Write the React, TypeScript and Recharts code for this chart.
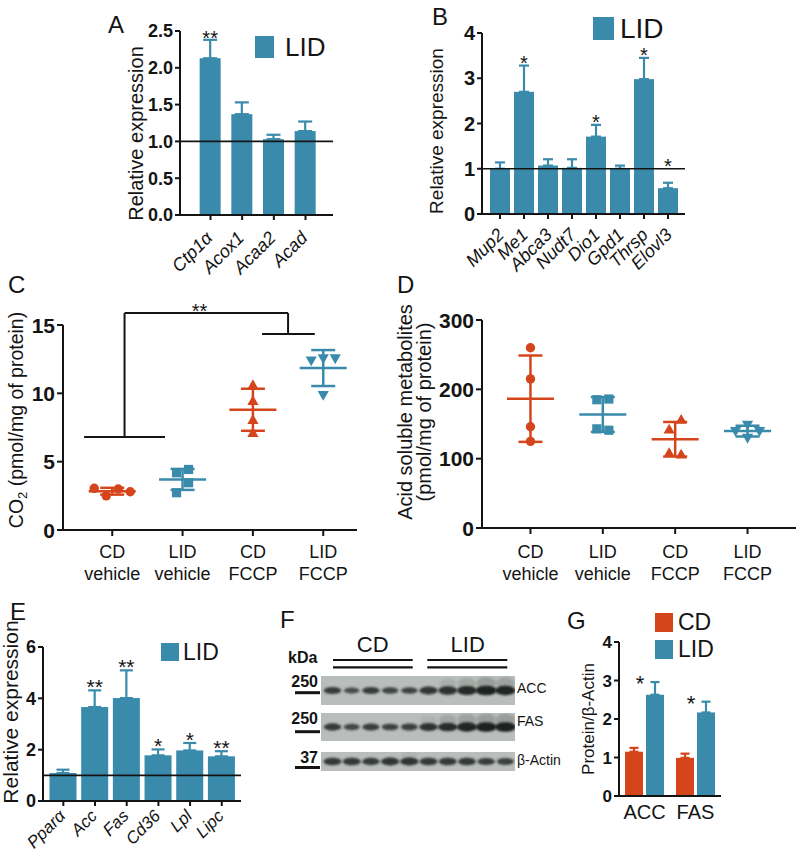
import React from 'react';
import {
  BarChart, Bar, XAxis, YAxis, ReferenceLine, ErrorBar, Legend,
  ScatterChart, Scatter, ReferenceDot, ReferenceArea,
} from 'recharts';

const FONT = '"Liberation Sans", Arial, Helvetica, sans-serif';
const BLUE = '#3a8bab';
const ORANGE = '#d5451b';
const INK = '#141414';
const BLOT_BG = '#b9bdbc';
const BAND = '#1c2120';

// ---------- Panel A ----------
const genesA = ['Ctp1α', 'Acox1', 'Acaa2', 'Acad'];
const lidA = [2.13, 1.37, 1.03, 1.14];
const semA = [0.25, 0.16, 0.06, 0.13];
const sigA = ['**', '', '', ''];
const ticksA = [0, 0.5, 1, 1.5, 2, 2.5];

// ---------- Panel B ----------
const genesB = ['Mup2', 'Me1', 'Abca3', 'Nudt7', 'Dio1', 'Gpd1', 'Thrsp', 'Elovl3'];
const lidB = [1.0, 2.7, 1.07, 1.02, 1.71, 1.0, 2.98, 0.57];
const semB = [0.14, 0.58, 0.14, 0.19, 0.26, 0.07, 0.47, 0.12];
const sigB = ['', '*', '', '', '*', '', '*', '*'];
const ticksB = [0, 1, 2, 3, 4];

// ---------- Panels C & D ----------
const groupTop = ['CD', 'LID', 'CD', 'LID'];
const groupBottom = ['vehicle', 'vehicle', 'FCCP', 'FCCP'];
const co2CDvehicle = [3.0, 2.5, 2.8, 3.05];
const co2LIDvehicle = [4.43, 4.19, 3.46, 2.73];
const co2CDfccp = [10.6, 9.44, 8.05, 7.1];
const co2LIDfccp = [12.56, 12.4, 12.56, 9.88];
const ticksC = [0, 5, 10, 15];
const bracketLevelsC = [6.8, 14.34, 15.87]; // left bar, right bar, top
const bracketLabelC = '**';

const asmCDvehicle = [260, 215, 146, 125];
const asmLIDvehicle = [186, 185, 141, 143];
const asmCDfccp = [156, 142, 106, 108];
const asmLIDfccp = [149, 140, 140, 130];
const ticksD = [0, 100, 200, 300];

// ---------- Panel E ----------
const genesE = ['Pparα', 'Acc', 'Fas', 'Cd36', 'Lpl', 'Lipc'];
const lidE = [1.09, 3.66, 4.01, 1.78, 1.97, 1.74];
const semE = [0.13, 0.65, 1.08, 0.23, 0.29, 0.2];
const sigE = ['', '**', '**', '*', '*', '**'];
const ticksE = [0, 2, 4, 6];

// ---------- Panel F (blot band intensities, lanes 1-5 CD, 6-10 LID) ----------
const accBands = [0.6, 0.4, 0.6, 0.5, 0.5, 0.7, 0.78, 0.88, 1.0, 0.96];
const fasBands = [0.62, 0.45, 0.58, 0.52, 0.55, 0.75, 0.85, 0.95, 1.0, 1.0];
const actinBands = [0.66, 0.66, 0.62, 0.7, 0.72, 0.66, 0.66, 0.64, 0.6, 0.55];
const blotGroups = ['CD', 'LID'];
const blotMarkers = ['250', '250', '37'];
const blotRows = ['ACC', 'FAS', 'β-Actin'];

// ---------- Panel G ----------
const proteinsG = ['ACC', 'FAS'];
const cdG = [1.15, 0.99];
const cdSemG = [0.1, 0.11];
const lidG = [2.63, 2.17];
const lidSemG = [0.33, 0.28];
const sigG = ['*', '*'];
const ticksG = [0, 1, 2, 3, 4];

// ---------- helpers ----------
const axisLine = { stroke: INK, strokeWidth: 2 };
const tickLine = { stroke: INK, strokeWidth: 2 };
const SLANT = -45;

const barRows = (names: string[], vals: number[], sems: number[], sigs: string[], floor: number) =>
  names.map((name, i) => ({ name, value: vals[i], sem: sems[i], err: [0, sems[i]], star: sigs[i], floor }));

const mean = (a: number[]) => a.reduce((s, v) => s + v, 0) / a.length;
const sd = (a: number[]) => {
  const m = mean(a);
  return Math.sqrt(a.reduce((s, v) => s + (v - m) * (v - m), 0) / (a.length - 1));
};

// deterministic beeswarm: horizontal offsets (px) so that markers don't overlap
function swarm(values: number[], pxPerUnit: number, size = 10, step = 6, minDx = 11): number[] {
  const placed: { dx: number; v: number }[] = [];
  const out: number[] = [];
  for (const v of values) {
    let chosen = 0;
    let found = false;
    for (let k = 0; k < 20 && !found; k++) {
      const cands = k === 0 ? [0] : [-k * step, k * step];
      for (const c of cands) {
        const ok = placed.every(p => Math.abs(p.dx - c) >= minDx || Math.abs(p.v - v) * pxPerUnit >= size);
        if (ok) { chosen = c; found = true; break; }
      }
    }
    placed.push({ dx: chosen, v });
    out.push(chosen);
  }
  const m = mean(out);
  return out.map(d => d - m);
}

function StarredBar(props: any) {
  const { x, y, width, height, fill, payload, vk = 'value', sk = 'sem', starFont = 20, starLift = 4, starDx = 0 } = props;
  const v = payload[vk];
  const base = y + height;
  const pxPer = v ? height / v : 0;
  const anchor = Math.max(v + payload[sk], payload.floor || 0);
  const ay = base - anchor * pxPer;
  return (
    <g>
      <rect x={x} y={y} width={width} height={height} fill={fill} />
      {payload.star ? (
        <text x={x + width / 2 + starDx} y={ay + starLift} textAnchor="middle" fontFamily={FONT} fontSize={starFont} fill={INK}>
          {payload.star}
        </text>
      ) : null}
    </g>
  );
}

function SwatchLegend(props: any) {
  const { payload, sw, sh, font, gap, rowGap = 0 } = props;
  return (
    <div style={{ display: 'flex', flexDirection: 'column', rowGap }}>
      {(payload || []).map((e: any) => (
        <div key={e.value} style={{ display: 'flex', alignItems: 'center', height: sh }}>
          <span style={{ width: sw, height: sh, background: e.color, display: 'inline-block', flex: 'none' }} />
          <span style={{ marginLeft: gap, fontFamily: FONT, fontSize: font, lineHeight: `${sh}px`, color: INK, whiteSpace: 'nowrap' }}>
            {e.value}
          </span>
        </div>
      ))}
    </div>
  );
}

function YTick(props: any) {
  const { x, y, payload, fs, fmt } = props;
  const label = fmt ? fmt(payload.value) : String(payload.value);
  return (
    <text x={x} y={y} dy="0.36em" textAnchor="end" fontFamily={FONT} fontWeight={700} fontSize={fs} fill={INK}>{label}</text>
  );
}

function SlantTick(props: any) {
  const { x, y, payload, fs, ox, oy } = props;
  const ax = x + ox;
  const ay = y + oy;
  return (
    <g transform={`translate(${ax},${ay}) rotate(${SLANT})`}>
      <text x={0} y={0} textAnchor="end" fontFamily={FONT} fontStyle="italic" fontSize={fs} fill={INK}>
        {payload.value}
      </text>
    </g>
  );
}

function TwoLineTick(props: any) {
  const { x, y, payload, fs, d1, d2 } = props;
  const i = Math.round(payload.value) - 1;
  return (
    <text textAnchor="middle" fontFamily={FONT} fontSize={fs} fill={INK}>
      <tspan x={x} y={y + d1}>{groupTop[i]}</tspan>
      <tspan x={x} y={y + d1 + d2}>{groupBottom[i]}</tspan>
    </text>
  );
}

function PlainTick(props: any) {
  const { x, y, payload, fs, dy } = props;
  return (
    <text x={x} y={y + dy} textAnchor="middle" fontFamily={FONT} fontSize={fs} fill={INK}>{payload.value}</text>
  );
}

function Marker(props: any) {
  const { cx, cy, payload, kind, color } = props;
  if (cx == null || cy == null) return null;
  const x = cx + (payload.dx || 0);
  if (kind === 'circle') return <circle cx={x} cy={cy} r={4.7} fill={color} />;
  if (kind === 'square') return <rect x={x - 4.6} y={cy - 4.6} width={9.2} height={9.2} fill={color} />;
  if (kind === 'up') return <polygon points={`${x},${cy - 5.8} ${x + 5.6},${cy + 4} ${x - 5.6},${cy + 4}`} fill={color} />;
  return <polygon points={`${x},${cy + 5.8} ${x + 5.6},${cy - 4} ${x - 5.6},${cy - 4}`} fill={color} />;
}

function MeanLine(props: any) {
  const { cx, cy, color, half } = props;
  if (cx == null || cy == null) return null;
  return <line x1={cx - half} x2={cx + half} y1={cy} y2={cy} stroke={color} strokeWidth={2.5} />;
}

const groupStyle = [
  { kind: 'circle', color: ORANGE },
  { kind: 'square', color: BLUE },
  { kind: 'up', color: ORANGE },
  { kind: 'down', color: BLUE },
];

// ---------- bar panels ----------
const dataA = barRows(genesA, lidA, semA, sigA, 0);
const dataB = barRows(genesB, lidB, semB, sigB, 1);
const dataE = barRows(genesE, lidE, semE, sigE, 0);
const dataG = proteinsG.map((name, i) => ({
  name, cd: cdG[i], cdSem: cdSemG[i], cdErr: [0, cdSemG[i]],
  lid: lidG[i], lidSem: lidSemG[i], lidErr: [0, lidSemG[i]], star: sigG[i],
}));

function ExprPanel(props: any) {
  const { left, top, width, height, margin, yWidth, xHeight, domain, ticks, fmt, yFs, pad, barSize, cap, data,
    xFs, ox, oy, legend, starFont, starLift } = props;
  return (
    <div style={{ position: 'absolute', left, top }}>
      <BarChart width={width} height={height} data={data} margin={margin}>
        <XAxis dataKey="name" height={xHeight} interval={0} padding={pad} axisLine={axisLine} tickLine={tickLine}
          tickSize={5} tick={<SlantTick fs={xFs} ox={ox} oy={oy} />} />
        <YAxis width={yWidth} domain={domain} ticks={ticks} axisLine={axisLine} tickLine={tickLine}
          tickSize={5} tickMargin={2} tick={<YTick fs={yFs} fmt={fmt} />} interval={0} />
        <Bar dataKey="value" name="LID" fill={BLUE} barSize={barSize} isAnimationActive={false}
          shape={(p: any) => <StarredBar {...p} starFont={starFont} starLift={starLift} />}>
          <ErrorBar dataKey="err" width={cap} stroke={BLUE} strokeWidth={2.2} direction="y" isAnimationActive={false} />
        </Bar>
        <ReferenceLine y={1} stroke={INK} strokeWidth={1.6} />
        <Legend layout="vertical" align="center" verticalAlign="middle"
          wrapperStyle={{ left: legend.left, top: legend.top, width: 'auto', height: 'auto' }}
          content={(p: any) => <SwatchLegend {...p} sw={legend.sw} sh={legend.sh} font={legend.font} gap={legend.gap} />} />
      </BarChart>
    </div>
  );
}

function DotPanel(props: any) {
  const { left, top, width, height, margin, yWidth, xHeight, xDomain, yDomain, yTicks, groups, plotH, yFs, d1, children } = props;
  const pxPerUnit = plotH / (yDomain[1] - yDomain[0]);
  return (
    <div style={{ position: 'absolute', left, top }}>
      <ScatterChart width={width} height={height} margin={margin}>
        <XAxis type="number" dataKey="x" domain={xDomain} ticks={[1, 2, 3, 4]} height={xHeight} interval={0}
          axisLine={axisLine} tickLine={tickLine} tickSize={6} tickMargin={2}
          tick={<TwoLineTick fs={18} d1={d1} d2={22} />} />
        <YAxis type="number" dataKey="y" domain={yDomain} ticks={yTicks} width={yWidth} interval={0}
          axisLine={axisLine} tickLine={tickLine} tickSize={6} tickMargin={2} tick={<YTick fs={yFs} />} />
        {groups.map((vals: number[], gi: number) => {
          const offs = swarm(vals, pxPerUnit);
          const data = vals.map((v, k) => ({ x: gi + 1, y: v, dx: offs[k] }));
          const st = groupStyle[gi];
          return (
            <Scatter key={`pts${gi}`} data={data} isAnimationActive={false}
              shape={(p: any) => <Marker {...p} kind={st.kind} color={st.color} />} />
          );
        })}
        {groups.map((vals: number[], gi: number) => {
          const st = groupStyle[gi];
          return (
            <Scatter key={`sum${gi}`} data={[{ x: gi + 1, y: mean(vals), sd: sd(vals) }]} isAnimationActive={false}
              shape={(p: any) => <MeanLine {...p} color={st.color} half={23.5} />}>
              <ErrorBar dataKey="sd" direction="y" width={12} stroke={st.color} strokeWidth={2.5} isAnimationActive={false} />
            </Scatter>
          );
        })}
        {children}
      </ScatterChart>
    </div>
  );
}

function PanelC() {
  const [lowL, lowR, topY] = bracketLevelsC;
  const l0 = 1 - 0.4, l1 = 2 - 0.25, legL = (l0 + l1) / 2;
  const r0 = 3 + 0.13, r1 = 4 - 0.12, legR = 3.5;
  const seg = (a: any, b: any, k: string) => (
    <ReferenceLine key={k} segment={[a, b]} stroke={INK} strokeWidth={2} ifOverflow="visible" />
  );
  return (
    <DotPanel left={0} top={270} width={380} height={320}
      margin={{ top: 55, right: 23, left: 0, bottom: 0 }} yWidth={63} xHeight={60}
      xDomain={[0.3, 4.48]} yDomain={[0, 15]} yTicks={ticksC} plotH={205} yFs={21} d1={19.5}
      groups={[co2CDvehicle, co2LIDvehicle, co2CDfccp, co2LIDfccp]}>
      {seg({ x: l0, y: lowL }, { x: l1, y: lowL }, 'b1')}
      {seg({ x: legL, y: lowL }, { x: legL, y: topY }, 'b2')}
      {seg({ x: legL, y: topY }, { x: legR, y: topY }, 'b3')}
      {seg({ x: legR, y: topY }, { x: legR, y: lowR }, 'b4')}
      {seg({ x: r0, y: lowR }, { x: r1, y: lowR }, 'b5')}
      <ReferenceDot x={(l0 + r1) / 2} y={topY} r={0} ifOverflow="visible"
        shape={(p: any) => (
          <text x={p.cx} y={p.cy + 5} textAnchor="middle" fontFamily={FONT} fontSize={20} fill={INK}>{bracketLabelC}</text>
        )} />
    </DotPanel>
  );
}

function PanelD() {
  return (
    <DotPanel left={395} top={270} width={402} height={320}
      margin={{ top: 50, right: 1, left: 0, bottom: 0 }} yWidth={87} xHeight={62}
      xDomain={[0.33, 4.67]} yDomain={[0, 300]} yTicks={ticksD} plotH={208} yFs={21} d1={21.5}
      groups={[asmCDvehicle, asmLIDvehicle, asmCDfccp, asmLIDfccp]} />
  );
}

function PanelG() {
  return (
    <div style={{ position: 'absolute', left: 560, top: 600 }}>
      <BarChart width={237} height={260} data={dataG} margin={{ top: 42, right: 76, left: 0, bottom: 0 }}
        barGap={3} barCategoryGap={0}>
        <XAxis dataKey="name" height={64} interval={0} axisLine={axisLine} tickLine={false} tickSize={5}
          tick={<PlainTick fs={20} dy={16} />} />
        <YAxis width={59} domain={[0, 4]} ticks={ticksG} axisLine={axisLine} tickLine={tickLine}
          tickSize={5} tickMargin={2} tick={<YTick fs={17} />} interval={0} />
        <Bar dataKey="cd" name="CD" fill={ORANGE} barSize={18} isAnimationActive={false}>
          <ErrorBar dataKey="cdErr" width={4.5} stroke={ORANGE} strokeWidth={2.2} direction="y" isAnimationActive={false} />
        </Bar>
        <Bar dataKey="lid" name="LID" fill={BLUE} barSize={18} isAnimationActive={false}
          shape={(p: any) => <StarredBar {...p} vk="lid" sk="lidSem" starFont={22} starLift={9} starDx={-15} />}>
          <ErrorBar dataKey="lidErr" width={4.5} stroke={BLUE} strokeWidth={2.2} direction="y" isAnimationActive={false} />
        </Bar>
        <Legend layout="vertical" align="center" verticalAlign="middle"
          wrapperStyle={{ left: 95, top: 13, width: 'auto', height: 'auto' }}
          content={(p: any) => <SwatchLegend {...p} sw={18} sh={19} font={23} gap={5} rowGap={8} />} />
      </BarChart>
    </div>
  );
}

function Band(props: any) {
  const { cx, cy, payload, filterId } = props;
  if (cx == null || cy == null) return null;
  const v = payload.v;
  const rx = 6 + 4.5 * v;
  const ry = 1.8 + 3 * v;
  return (
    <g filter={`url(#${filterId})`}>
      {v > 0.7 ? <ellipse cx={cx} cy={cy - ry - 2.5} rx={rx * 0.9} ry={ry * 1.3} fill={BAND} opacity={(v - 0.65) * 0.6} /> : null}
      <ellipse cx={cx} cy={cy} rx={rx} ry={ry} fill={BAND} opacity={0.55 + 0.45 * v} />
    </g>
  );
}

function BlotStrip(props: any) {
  const { left, top, width, height, bands, id } = props;
  const data = bands.map((v: number, i: number) => ({ lane: i + 1, y: 0.5, v }));
  return (
    <div style={{ position: 'absolute', left, top }}>
      <ScatterChart width={width} height={height} margin={{ top: 0, right: 0, bottom: 0, left: 0 }}>
        <defs>
          <filter id={id} x="-50%" y="-150%" width="200%" height="400%">
            <feGaussianBlur stdDeviation="1.1" />
          </filter>
        </defs>
        <XAxis type="number" dataKey="lane" domain={[0.4, 10.5]} hide />
        <YAxis type="number" dataKey="y" domain={[0, 1]} hide />
        <ReferenceArea x1={0.4} x2={10.5} y1={0} y2={1} fill={BLOT_BG} fillOpacity={1} stroke="none" ifOverflow="visible" />
        <Scatter data={data} isAnimationActive={false} shape={(p: any) => <Band {...p} filterId={id} />} />
      </ScatterChart>
    </div>
  );
}

function PanelF() {
  return (
    <>
      <BlotStrip left={321} top={676} width={194} height={29} bands={accBands} id="blurAcc" />
      <BlotStrip left={321} top={713} width={194} height={28} bands={fasBands} id="blurFas" />
      <BlotStrip left={321} top={752} width={194} height={19} bands={actinBands} id="blurActin" />
    </>
  );
}

function VText(props: any) {
  const { x, y, fs, children } = props;
  return (
    <text x={x} y={y} transform={`rotate(-90 ${x} ${y})`} textAnchor="middle" fontFamily={FONT} fontSize={fs} fill={INK}>
      {children}
    </text>
  );
}

function Overlay() {
  const letter = (t: string, x: number, y: number) => (
    <text key={t} x={x} y={y} fontFamily={FONT} fontSize={24} fill={INK}>{t}</text>
  );
  const markerY = [687.3, 724, 763.3];
  const barY = [692.7, 731.7, 767.5];
  const rowY = [693.3, 726, 765];
  return (
    <svg width={797} height={860} style={{ position: 'absolute', left: 0, top: 0, pointerEvents: 'none' }}>
      {letter('A', 108, 33)}
      {letter('B', 432, 25)}
      {letter('C', 8, 293)}
      {letter('D', 397, 293)}
      {letter('E', 10, 620)}
      {letter('F', 280, 628)}
      {letter('G', 567, 629)}
      <VText x={142.5} y={133.5} fs={20}>Relative expression</VText>
      <VText x={443} y={131} fs={19}>Relative expression</VText>
      <VText x={22.5} y={420} fs={19.5}>CO<tspan fontSize={13} dy={4}>2</tspan><tspan dy={-4}> (pmol/mg of protein)</tspan></VText>
      <VText x={412} y={412} fs={20}>Acid soluble metabolites</VText>
      <VText x={431} y={412} fs={20}>(pmol/mg of protein)</VText>
      <VText x={18} y={712} fs={21}>Relative expression</VText>
      <VText x={594} y={719} fs={17}>Protein/β-Actin</VText>
      {/* Panel F annotations */}
      <text x={288} y={662.7} fontFamily={FONT} fontSize={16} fontWeight={700} fill={INK}>kDa</text>
      <text x={372.7} y={651.7} textAnchor="middle" fontFamily={FONT} fontSize={22} fill={INK}>{blotGroups[0]}</text>
      <text x={467.7} y={651.7} textAnchor="middle" fontFamily={FONT} fontSize={22} fill={INK}>{blotGroups[1]}</text>
      {[660, 667.3].map(y => (
        <g key={y}>
          <line x1={333} x2={412.7} y1={y} y2={y} stroke={INK} strokeWidth={2.2} />
          <line x1={427.3} x2={507.3} y1={y} y2={y} stroke={INK} strokeWidth={2.2} />
        </g>
      ))}
      {blotMarkers.map((m, i) => (
        <g key={`m${i}`}>
          <text x={318} y={markerY[i]} textAnchor="end" fontFamily={FONT} fontSize={16} fontWeight={700} fill={INK}>{m}</text>
          <rect x={295} y={barY[i] - 1.5} width={25} height={3} fill={INK} />
        </g>
      ))}
      {blotRows.map((r, i) => (
        <text key={r} x={517} y={rowY[i]} fontFamily={FONT} fontSize={14} fill={INK}>{r}</text>
      ))}
    </svg>
  );
}

export default function App() {
  return (
    <div style={{ position: 'absolute', left: 0, top: 0, width: 797, height: 860, background: '#fff', overflow: 'hidden', fontFamily: FONT }}>
      <ExprPanel left={0} top={0} width={345} height={290} margin={{ top: 31, right: 12, left: 0, bottom: 0 }}
        yWidth={180} xHeight={75} domain={[0, 2.5]} ticks={ticksA} fmt={(v: number) => v.toFixed(1)} yFs={18}
        pad={{ left: 14.65, right: 11.65 }} barSize={21} cap={7} data={dataA} xFs={18} ox={3} oy={17}
        starFont={20} starLift={5}
        legend={{ left: 255, top: 36, sw: 19, sh: 22, font: 26, gap: 11 }} />
      <ExprPanel left={395} top={0} width={300} height={290} margin={{ top: 33, right: 10, left: 0, bottom: 0 }}
        yWidth={87} xHeight={76} domain={[0, 4]} ticks={ticksB} fmt={(v: number) => String(v)} yFs={20}
        pad={{ left: 6, right: 5 }} barSize={20} cap={5} data={dataB} xFs={18} ox={5} oy={15}
        starFont={20} starLift={4}
        legend={{ left: 198, top: 17, sw: 21, sh: 23, font: 28, gap: 6 }} />
      <PanelC />
      <PanelD />
      <ExprPanel left={0} top={600} width={260} height={260} margin={{ top: 47, right: 19, left: 0, bottom: 0 }}
        yWidth={43} xHeight={59} domain={[0, 6]} ticks={ticksE} fmt={(v: number) => String(v)} yFs={18}
        pad={{ left: 4.5, right: 3.4 }} barSize={27} cap={6.5} data={dataE} xFs={17} ox={3} oy={9}
        starFont={21} starLift={4}
        legend={{ left: 161, top: 43, sw: 18, sh: 18, font: 23, gap: 4 }} />
      <PanelF />
      <PanelG />
      <Overlay />
    </div>
  );
}
